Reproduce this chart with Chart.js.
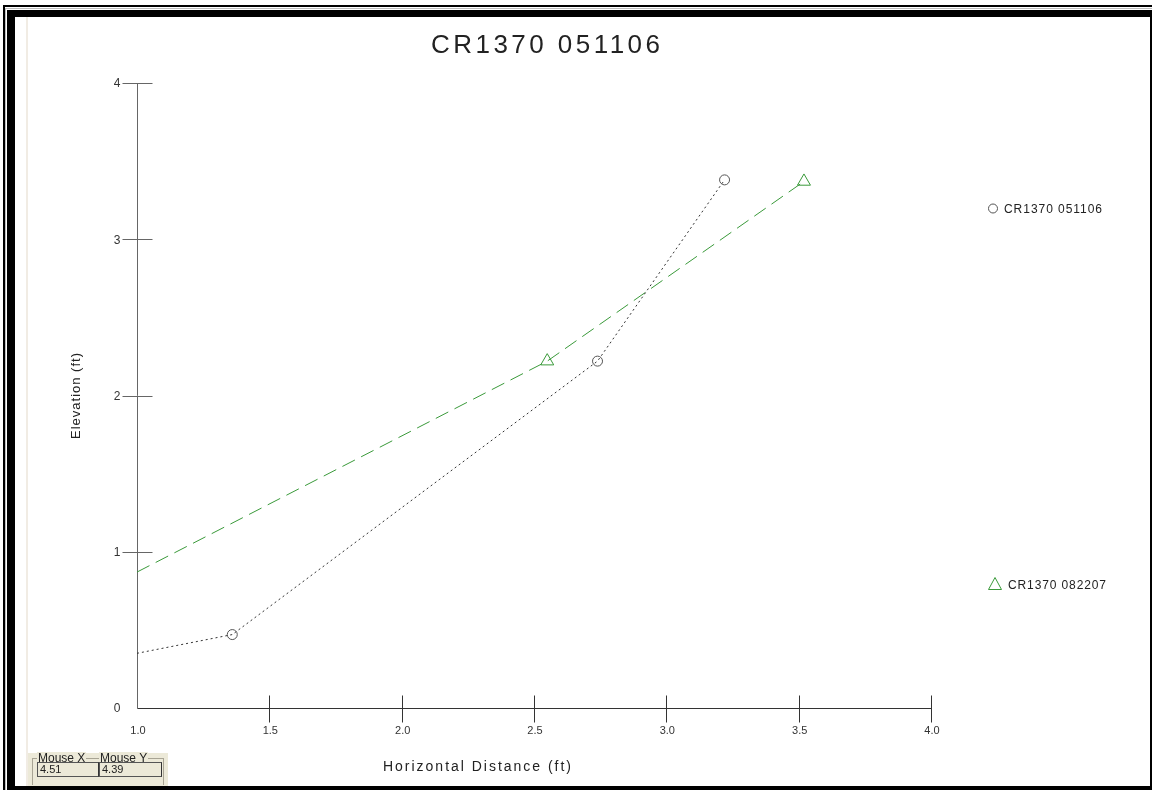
<!DOCTYPE html>
<html>
<head>
<meta charset="utf-8">
<title>CR1370 051106</title>
<script src="https://cdn.jsdelivr.net/npm/chart.js@4"></script>
<style>
  html, body { margin: 0; padding: 0; background: #fff; }
  #wrap { position: relative; width: 1152px; height: 790px; overflow: hidden; }
  #chart { position: absolute; left: 0; top: 0; }
  #mouse { position: absolute; left: 28px; top: 753px; width: 140px; height: 33px;
           background: #ece9d8; font-family: "Liberation Sans", Arial, sans-serif; font-size: 12px; color: #222; }
  #mouse .grp { position: absolute; top: 5px; height: 26px; border: 1px solid #a8a494; border-bottom: none; }
  #mouse .lbl { position: absolute; top: -1px; background: #ece9d8; padding: 0 1px; line-height: 12px; }
  #mouse .box { position: absolute; top: 9px; height: 15px; border: 1px solid #555; border-right-color: #333;
                background: #ece9d8; line-height: 13px; padding-left: 2px; box-sizing: border-box; font-size: 11px; }
</style>
</head>
<body>
<div id="wrap">
  <canvas id="chart" width="1152" height="790"></canvas>
  <div id="mouse">
    <div class="grp" style="left:4px;width:130px;"></div>
    <div class="lbl" style="left:9px;">Mouse X</div>
    <div class="lbl" style="left:71px;">Mouse Y</div>
    <div class="box" style="left:9px;width:62px;">4.51</div>
    <div class="box" style="left:71px;width:63px;">4.39</div>
  </div>
</div>
<script>
// Survey cross-section data (horizontal distance vs. elevation, ft)
const seriesNames = ['CR1370 051106', 'CR1370 082207'];
const survey051106X = [1.0, 1.36, 2.74, 3.22];
const survey051106Y = [0.35, 0.47, 2.22, 3.38];
const survey082207X = [1.0, 2.55, 3.52];
const survey082207Y = [0.87, 2.22, 3.37];

const xTickValues = [1.0, 1.5, 2.0, 2.5, 3.0, 3.5, 4.0];
const xTickLabels = ['1.0', '1.5', '2.0', '2.5', '3.0', '3.5', '4.0'];
const yTickValues = [0, 1, 2, 3, 4];
const yTickLabels = ['0', '1', '2', '3', '4'];

const chartTitle = 'CR1370 051106';
const xTitle = 'Horizontal Distance (ft)';
const yTitle = 'Elevation (ft)';

const FONT = '"Liberation Sans", Arial, sans-serif';
const GREEN = '#3a9a3a';

function toPoints(xs, ys) { return xs.map((x, i) => ({ x: x, y: ys[i] })); }

// Draw text spread to a given width via letter spacing
function fitText(ctx, text, x, y, width, size, color) {
  ctx.save();
  ctx.font = size + 'px ' + FONT;
  ctx.letterSpacing = '0px';
  const w = ctx.measureText(text).width;
  const ls = text.length > 1 ? (width - w) / (text.length - 1) : 0;
  ctx.letterSpacing = ls + 'px';
  ctx.fillStyle = color;
  ctx.textAlign = 'left';
  ctx.textBaseline = 'alphabetic';
  ctx.fillText(text, x, y);
  ctx.restore();
}

const framePlugin = {
  id: 'frame',
  beforeDraw(chart) {
    const ctx = chart.ctx;
    ctx.save();
    ctx.fillStyle = '#fff';
    ctx.fillRect(0, 0, 1152, 790);
    // outer thin rule
    ctx.fillStyle = '#000';
    ctx.fillRect(3, 5, 1149, 2);
    ctx.fillRect(3, 5, 2, 785);
    ctx.fillStyle = '#bdbdbd';
    ctx.fillRect(5, 8, 1147, 1);
    ctx.fillRect(5, 8, 1, 782);
    // heavy frame
    ctx.fillStyle = '#000';
    ctx.fillRect(7, 10, 1145, 7);
    ctx.fillRect(7, 10, 8, 780);
    ctx.fillRect(1150, 10, 2, 780);
    ctx.fillRect(7, 786, 1145, 4);
    // faint inner rule
    ctx.fillStyle = '#f1ece4';
    ctx.fillRect(26, 17, 2, 769);
    ctx.restore();
  },
  beforeDatasetsDraw(chart) {
    const ctx = chart.ctx;
    const xs = chart.scales.x, ys = chart.scales.y;
    const x0 = Math.round(xs.getPixelForValue(xTickValues[0])) + 0.5;
    const y0 = Math.round(ys.getPixelForValue(yTickValues[0])) + 0.5;
    const xEnd = xs.getPixelForValue(xTickValues[xTickValues.length - 1]);
    const yEnd = ys.getPixelForValue(yTickValues[yTickValues.length - 1]);
    ctx.save();
    ctx.lineWidth = 1;
    // y axis and its ticks
    ctx.strokeStyle = '#666';
    ctx.beginPath();
    ctx.moveTo(x0, Math.round(yEnd));
    ctx.lineTo(x0, y0);
    yTickValues.forEach(v => {
      if (v === yTickValues[0]) return;
      const py = Math.round(ys.getPixelForValue(v)) + 0.5;
      ctx.moveTo(x0 - 15, py);
      ctx.lineTo(x0 + 15, py);
    });
    ctx.stroke();
    // x axis and its ticks
    ctx.strokeStyle = '#333';
    ctx.beginPath();
    ctx.moveTo(x0, y0);
    ctx.lineTo(Math.round(xEnd) + 1, y0);
    xTickValues.forEach(v => {
      if (v === xTickValues[0]) return;
      const px = Math.round(xs.getPixelForValue(v)) + 0.5;
      ctx.moveTo(px, y0 - 13);
      ctx.lineTo(px, y0 + 14);
    });
    ctx.stroke();

    // tick labels
    ctx.font = '11px ' + FONT;
    ctx.fillStyle = '#333';
    ctx.textAlign = 'center';
    ctx.textBaseline = 'alphabetic';
    xTickValues.forEach((v, i) => {
      ctx.fillText(xTickLabels[i], xs.getPixelForValue(v) + 1, y0 + 25);
    });
    ctx.font = '12px ' + FONT;
    ctx.textAlign = 'right';
    ctx.textBaseline = 'middle';
    yTickValues.forEach((v, i) => {
      ctx.fillText(yTickLabels[i], x0 - 17, ys.getPixelForValue(v) + 1);
    });

    // titles
    fitText(ctx, chartTitle, 431, 53, 229, 26, '#222');
    fitText(ctx, xTitle, 383, 771, 188, 14, '#222');
    ctx.translate(80, 439);
    ctx.rotate(-Math.PI / 2);
    fitText(ctx, yTitle, 0, 0, 86, 13, '#222');
    ctx.restore();
  },
  afterDatasetsDraw(chart) {
    // legend entries, placed at the right of the plot
    const ctx = chart.ctx;
    const ds = chart.data.datasets;
    ctx.save();
    ctx.lineWidth = 1;
    // circle marker
    ctx.strokeStyle = ds[0].pointBorderColor;
    ctx.beginPath();
    ctx.arc(993, 208.5, 4.5, 0, Math.PI * 2);
    ctx.stroke();
    fitText(ctx, seriesNames[0], 1004, 213, 98, 12, '#222');
    // triangle marker
    ctx.strokeStyle = ds[1].pointBorderColor;
    ctx.beginPath();
    ctx.moveTo(995, 577.5);
    ctx.lineTo(1001.5, 589.5);
    ctx.lineTo(988.5, 589.5);
    ctx.closePath();
    ctx.stroke();
    fitText(ctx, seriesNames[1], 1008, 588.5, 98, 12, '#222');
    ctx.restore();
  }
};

new Chart(document.getElementById('chart'), {
  type: 'line',
  data: {
    datasets: [
      {
        label: seriesNames[0],
        data: toPoints(survey051106X, survey051106Y),
        borderColor: '#333',
        borderWidth: 1,
        borderDash: [2, 3],
        pointStyle: 'circle',
        pointRadius: survey051106X.map((x, i) => i === 0 ? 0 : 5),
        pointBorderColor: '#555',
        pointBackgroundColor: 'rgba(255,255,255,0)',
        pointBorderWidth: 1,
        tension: 0
      },
      {
        label: seriesNames[1],
        data: toPoints(survey082207X, survey082207Y),
        borderColor: GREEN,
        borderWidth: 1,
        borderDash: [14, 7],
        pointStyle: 'triangle',
        pointRadius: survey082207X.map((x, i) => i === 0 ? 0 : 7.5),
        pointBorderColor: GREEN,
        pointBackgroundColor: 'rgba(255,255,255,0)',
        pointBorderWidth: 1,
        tension: 0
      }
    ]
  },
  options: {
    responsive: false,
    animation: false,
    devicePixelRatio: 1,
    layout: { padding: { left: 137, top: 83, right: 221, bottom: 82 } },
    plugins: { legend: { display: false }, tooltip: { enabled: false }, title: { display: false } },
    scales: {
      x: { type: 'linear', min: 1, max: 4, display: false },
      y: { type: 'linear', min: 0, max: 4, display: false }
    }
  },
  plugins: [framePlugin]
});
</script>
</body>
</html>
